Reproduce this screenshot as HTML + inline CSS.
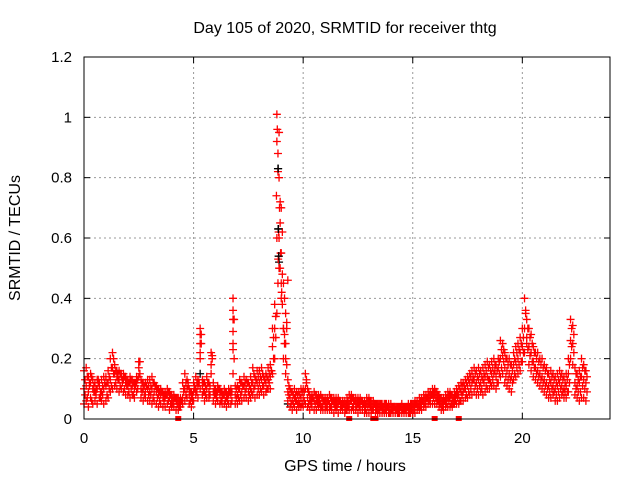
<!DOCTYPE html>
<html><head><meta charset="utf-8"><style>
html,body{margin:0;padding:0;background:#fff;}
svg{display:block;font-family:"Liberation Sans",sans-serif;}
</style></head><body>
<svg id="chart" width="640" height="480" viewBox="0 0 640 480">
<rect x="0" y="0" width="640" height="480" fill="#fff"/>
<text x="345" y="33" font-size="16" text-anchor="middle">Day 105 of 2020, SRMTID for receiver thtg</text>
<text transform="translate(20,238) rotate(-90)" font-size="16" text-anchor="middle">SRMTID / TECUs</text>
<text x="345" y="471" font-size="16" text-anchor="middle">GPS time / hours</text>
<g id="grid"></g>
<g id="ticks"></g>
<g id="marks"></g>
<rect x="84" y="57" width="526" height="362" fill="none" stroke="#000" stroke-width="1"/>
</svg>
<script>
const xTicks=[0,5,10,15,20];
const yTicks=[0,0.2,0.4,0.6,0.8,1,1.2];
const yTickLabels=["0","0.2","0.4","0.6","0.8","1","1.2"];
const tStart=0, tStep=0.1;
const lowVals=[
.05,.06,.04,.07,.05,.06,.05,.07,.06,.05,
.06,.07,.09,.10,.11,.10,.09,.10,.09,.08,
.08,.07,.08,.07,.09,.14,.07,.06,.07,.06,
.06,.05,.06,.05,.04,.05,.04,.04,.05,.03,
.04,.04,.03,.03,.04,.05,.06,.07,.05,.04,
.06,.08,.07,.10,.08,.06,.07,.07,.15,.06,
.05,.06,.05,.05,.05,.04,.05,.05,.15,.05,
.05,.06,.06,.07,.07,.06,.07,.08,.07,.08,
.08,.09,.08,.09,.10,.10,.15,.20,.35,.50,
.40,.20,.15,.06,.04,.03,.04,.03,.04,.04,
.04,.05,.04,.03,.04,.03,.03,.04,.03,.03,
.03,.03,.03,.03,.02,.03,.02,.03,.03,.02,
.03,.03,.03,.03,.03,.02,.03,.03,.02,.02,
.02,.02,.03,.02,.02,.02,.02,.02,.02,.02,
.02,.02,.02,.02,.02,.02,.02,.02,.02,.02,
.02,.02,.03,.03,.03,.04,.04,.05,.05,.05,
.05,.05,.04,.03,.03,.04,.04,.04,.04,.05,
.05,.05,.06,.06,.07,.07,.08,.08,.09,.08,
.08,.09,.08,.09,.10,.10,.11,.11,.10,.12,
.14,.15,.12,.11,.10,.09,.13,.14,.15,.16,
.19,.22,.25,.18,.16,.14,.13,.12,.11,.10,
.09,.08,.07,.07,.08,.06,.06,.07,.08,.07,
.07,.09,.20,.18,.08,.07,.06,.07,.07,.06];
const q1Vals=[
.08,.07,.12,.06,.09,.08,.13,.07,.08,.12,
.08,.10,.11,.15,.12,.13,.11,.12,.10,.11,
.09,.10,.08,.12,.10,.15,.09,.08,.11,.08,
.08,.07,.11,.07,.06,.09,.06,.08,.06,.05,
.05,.07,.05,.04,.06,.09,.08,.11,.06,.06,
.11,.09,.12,.25,.09,.08,.12,.08,.20,.08,
.07,.10,.06,.08,.06,.06,.09,.06,.20,.07,
.07,.08,.11,.09,.12,.08,.09,.10,.13,.10,
.10,.11,.13,.10,.12,.16,.20,.27,.45,.65,
.48,.25,.18,.08,.05,.05,.06,.05,.05,.05,
.06,.12,.05,.05,.07,.05,.05,.05,.04,.06,
.04,.06,.04,.06,.04,.04,.06,.04,.05,.03,
.04,.06,.04,.06,.04,.04,.06,.05,.03,.04,
.04,.03,.05,.03,.03,.04,.03,.03,.04,.02,
.03,.04,.03,.02,.04,.03,.03,.04,.02,.03,
.03,.05,.04,.04,.06,.05,.07,.06,.08,.07,
.07,.06,.05,.04,.06,.05,.06,.05,.05,.06,
.07,.06,.08,.10,.08,.09,.10,.13,.11,.10,
.11,.10,.12,.11,.13,.12,.13,.16,.12,.15,
.17,.19,.14,.13,.13,.12,.15,.17,.18,.19,
.22,.35,.23,.21,.19,.17,.15,.14,.13,.12,
.11,.10,.09,.10,.09,.08,.09,.10,.09,.09,
.09,.12,.24,.22,.10,.09,.09,.11,.10,.09];
const midVals=[
.10,.11,.09,.12,.10,.09,.10,.11,.09,.10,
.11,.12,.13,.17,.15,.14,.13,.14,.13,.12,
.11,.12,.11,.10,.12,.17,.10,.10,.09,.10,
.09,.10,.09,.09,.08,.08,.07,.07,.08,.07,
.06,.06,.06,.05,.05,.07,.10,.10,.08,.07,
.09,.10,.11,.20,.11,.09,.10,.09,.18,.09,
.08,.09,.08,.07,.08,.07,.08,.08,.25,.08,
.08,.10,.09,.11,.10,.09,.10,.12,.11,.12,
.12,.13,.11,.12,.13,.14,.24,.30,.60,.80,
.55,.30,.25,.09,.07,.06,.07,.06,.06,.07,
.07,.10,.07,.06,.06,.06,.06,.06,.05,.05,
.05,.05,.05,.05,.05,.05,.05,.05,.04,.04,
.05,.05,.06,.05,.05,.05,.05,.04,.04,.05,
.05,.04,.04,.04,.04,.04,.04,.04,.03,.03,
.03,.03,.03,.03,.03,.03,.03,.03,.03,.04,
.04,.04,.04,.05,.05,.06,.06,.07,.07,.08,
.08,.07,.06,.05,.05,.06,.07,.07,.06,.07,
.08,.08,.09,.09,.10,.11,.12,.12,.13,.12,
.13,.12,.13,.14,.14,.13,.15,.15,.14,.17,
.20,.21,.17,.16,.15,.14,.18,.19,.20,.22,
.24,.30,.27,.24,.22,.19,.17,.16,.15,.14,
.13,.12,.11,.12,.11,.10,.11,.12,.11,.10,
.11,.15,.26,.25,.12,.11,.12,.14,.13,.12];
const q3Vals=[
.13,.14,.11,.14,.11,.10,.12,.09,.11,.12,
.12,.14,.17,.20,.16,.15,.15,.13,.14,.13,
.12,.13,.12,.11,.13,.19,.12,.11,.11,.11,
.11,.12,.11,.10,.09,.09,.08,.08,.09,.08,
.07,.07,.07,.06,.06,.10,.12,.12,.09,.08,
.10,.12,.12,.28,.12,.11,.12,.11,.21,.10,
.09,.10,.09,.08,.09,.08,.09,.09,.33,.10,
.10,.12,.11,.12,.12,.11,.12,.15,.13,.14,
.14,.15,.13,.14,.15,.16,.27,.34,.88,.72,
.62,.40,.30,.11,.09,.08,.08,.08,.08,.09,
.09,.13,.09,.07,.07,.08,.07,.07,.07,.06,
.06,.06,.07,.06,.06,.06,.06,.05,.05,.05,
.06,.07,.07,.06,.06,.06,.06,.05,.05,.06,
.06,.05,.05,.05,.05,.05,.04,.05,.04,.04,
.04,.04,.04,.04,.04,.04,.04,.04,.04,.05,
.05,.05,.05,.06,.06,.07,.07,.08,.08,.09,
.09,.08,.07,.06,.06,.07,.08,.08,.07,.08,
.09,.10,.11,.11,.12,.13,.14,.14,.15,.14,
.15,.14,.15,.16,.17,.16,.17,.18,.16,.19,
.23,.23,.20,.18,.18,.16,.20,.22,.23,.25,
.27,.36,.30,.27,.25,.22,.20,.19,.18,.17,
.16,.15,.13,.14,.13,.12,.13,.14,.13,.12,
.13,.18,.30,.28,.15,.13,.14,.17,.16,.14];
const highVals=[
.16,.17,.14,.15,.13,.12,.13,.12,.13,.14,
.14,.16,.20,.22,.18,.16,.16,.15,.15,.14,
.13,.14,.13,.12,.14,.19,.13,.12,.12,.13,
.13,.14,.12,.11,.10,.10,.09,.09,.10,.09,
.08,.08,.07,.07,.07,.12,.15,.13,.10,.09,
.12,.14,.13,.30,.13,.12,.14,.12,.22,.12,
.10,.11,.10,.09,.10,.09,.10,.10,.40,.11,
.11,.13,.12,.14,.13,.12,.14,.17,.14,.16,
.16,.17,.14,.15,.17,.18,.30,.38,1.01,.95,
.70,.45,.35,.13,.10,.09,.10,.09,.09,.10,
.10,.15,.10,.08,.08,.09,.08,.08,.08,.07,
.07,.07,.08,.07,.07,.07,.07,.06,.06,.06,
.07,.08,.08,.07,.07,.07,.07,.06,.06,.07,
.07,.06,.06,.05,.05,.05,.05,.05,.05,.05,
.05,.04,.04,.04,.04,.05,.04,.04,.05,.05,
.05,.06,.06,.07,.07,.08,.08,.09,.09,.10,
.10,.09,.08,.07,.07,.08,.09,.09,.08,.09,
.10,.11,.12,.12,.13,.14,.15,.16,.17,.16,
.17,.16,.17,.18,.19,.18,.19,.20,.18,.20,
.26,.25,.22,.20,.20,.18,.22,.24,.25,.27,
.30,.40,.33,.30,.28,.24,.22,.22,.20,.20,
.18,.17,.15,.16,.15,.14,.15,.16,.15,.14,
.15,.20,.33,.31,.17,.15,.16,.20,.18,.16];
const spikeT=[8.78,8.8,8.82,8.85,8.86,8.88,8.9,8.92,8.95,8.97,9.0,9.02,9.05,9.1,9.15,9.2,9.25,9.3,6.8,6.8,6.8,6.8,5.3,5.3,5.3];
const spikeV=[.74,.92,.96,.82,.53,.62,.60,.70,.50,.55,.45,.42,.38,.30,.28,.20,.32,.46,.36,.33,.29,.23,.28,.25,.22];
const blackT=[8.85,8.86,8.88,8.9,5.3,9.3];
const blackV=[.83,.63,.54,.52,.15,.05];
const zeroT=[4.3,12.1,13.2,13.3,16.0,17.1];

const NS="http://www.w3.org/2000/svg";
const X0=84,X1=610,Y0=419,Y1=57,XMAX=24,YMAX=1.2;
function sx(t){return X0+(X1-X0)*t/XMAX;}
function sy(v){return Y0-(Y0-Y1)*v/YMAX;}
function mk(tag,attrs,parent){const e=document.createElementNS(NS,tag);for(const k in attrs)e.setAttribute(k,attrs[k]);parent.appendChild(e);return e;}
const grid=document.getElementById('grid'),ticks=document.getElementById('ticks'),marks=document.getElementById('marks');
yTicks.forEach((v,i)=>{
  const y=sy(v);
  if(v>0&&v<YMAX){const g=mk('line',{x1:X0,x2:X1,y1:y,y2:y,stroke:'#999','stroke-dasharray':'2,3','stroke-width':1},grid);
  
  }
  const a=mk('line',{x1:X0,x2:X0+6,y1:y,y2:y,stroke:'#000'},ticks);
  
  
  const b=mk('line',{x1:X1-6,x2:X1,y1:y,y2:y,stroke:'#000'},ticks);
  
  
  const t=mk('text',{x:72,y:y+5,'font-size':15,'text-anchor':'end'},ticks);t.textContent=yTickLabels[i];
  
  
});
xTicks.forEach(v=>{
  const x=sx(v);
  if(v>0){const g=mk('line',{x1:x,x2:x,y1:Y1,y2:Y0,stroke:'#999','stroke-dasharray':'2,3','stroke-width':1},grid);
  
  }
  const a=mk('line',{x1:x,x2:x,y1:Y0,y2:Y0-6,stroke:'#000'},ticks);
  
  
  const b=mk('line',{x1:x,x2:x,y1:Y1,y2:Y1+6,stroke:'#000'},ticks);
  
  
  const t=mk('text',{x:x,y:443,'font-size':15,'text-anchor':'middle'},ticks);t.textContent=String(v);
  
  
});
function plus(t,v,color,name){
  const x=sx(t),y=Math.min(Y0,Math.max(Y1,sy(v)));
  const p=mk('path',{d:`M${x-4},${y}h8M${x},${y-4}v8`,stroke:color,'stroke-width':1.3,fill:'none'},marks);
  
  
}
blackT.forEach((t,i)=>plus(t,blackV[i],'#000','black-point'));
[lowVals,midVals,highVals].forEach(arr=>arr.forEach((v,i)=>plus(tStart+i*tStep,v,'#f00','red-point')));
[q1Vals,q3Vals].forEach(arr=>arr.forEach((v,i)=>plus(tStart+tStep/2+i*tStep,v,'#f00','red-point')));
spikeT.forEach((t,i)=>plus(t,spikeV[i],'#f00','red-point'));
blackT.slice(0,3).forEach((t,i)=>plus(t+0.01,blackV[i],'#000','black-point'));
zeroT.forEach(t=>{const r=mk('rect',{x:sx(t)-3,y:Y0-3,width:6,height:5,fill:'#f00'},marks);
  
  });
</script>
</body></html>
